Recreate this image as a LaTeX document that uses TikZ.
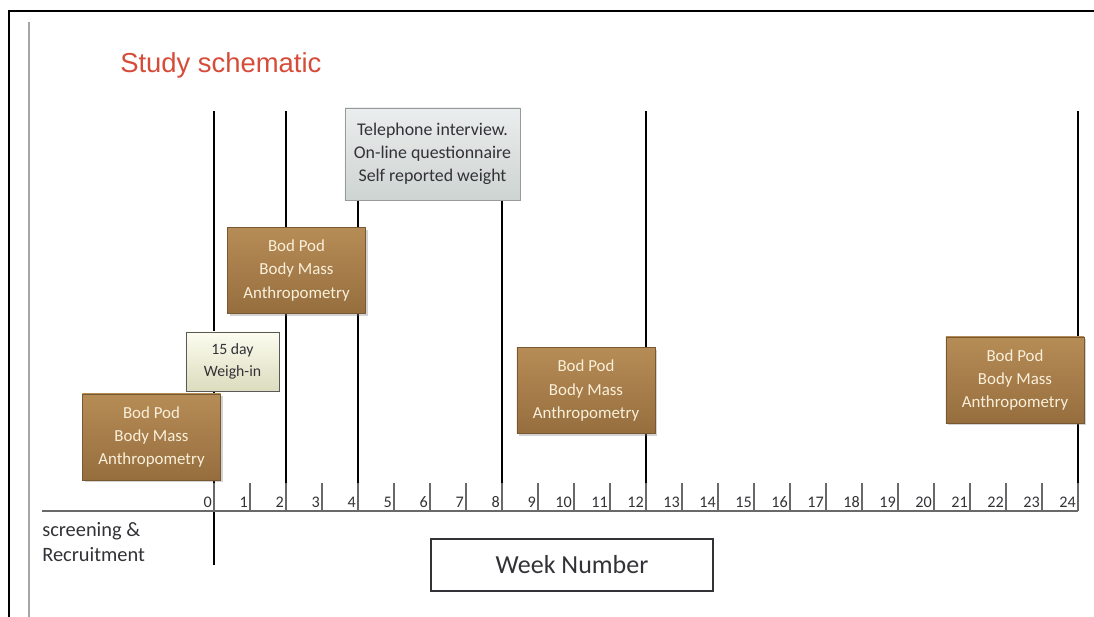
\documentclass[tikz,border=0pt]{standalone}
\usepackage{fontspec}
\setmainfont{Carlito}
\newfontfamily\titlefont{Liberation Sans}
\usepackage{xcolor}
\usepackage{tikz}
\usetikzlibrary{positioning,shadows}
\definecolor{titlered}{RGB}{214,76,56}
\definecolor{podtop}{RGB}{182,140,86}
\definecolor{podbottom}{RGB}{150,110,62}
\definecolor{podedge}{RGB}{120,88,50}
\definecolor{podtext}{RGB}{250,240,218}
\definecolor{creamtop}{RGB}{252,252,240}
\definecolor{creambottom}{RGB}{220,220,190}
\definecolor{phonetop}{RGB}{234,238,238}
\definecolor{phonebottom}{RGB}{206,212,210}
\definecolor{axisgray}{RGB}{105,105,105}
\definecolor{inkgray}{RGB}{50,50,55}

\begin{document}
\begin{tikzpicture}[x=0.025cm, y=-0.025cm,
    podbox/.style={draw=podedge, top color=podtop, bottom color=podbottom,
        text=podtext, align=center, minimum width=3.45cm, minimum height=2.15cm,
        font=\fontsize{12}{16.5}\selectfont,
        drop shadow={opacity=0.35, shadow xshift=1.5pt, shadow yshift=-1.5pt}},
    notebox/.style={draw=#1, align=center, text=inkgray},
    weekline/.style={line width=1pt, black}]
    \useasboundingbox (0,0) rectangle (1094,617);
    % frame
    \draw[line width=1.4pt] (9,617) -- (9,11) -- (1094,11);
    \draw[black!35, line width=0.8pt] (29,22) -- (29,617);
    % title
    \node[anchor=base west, inner sep=0, text=titlered,
        font=\titlefont\fontsize{19.5}{22}\selectfont] (title) at (120,73) {Study schematic};
    % long week lines
    \foreach \w in {2,4,8,12,24} {
        \draw[weekline] ({214+36*\w},111) -- ({214+36*\w},511);
    }
    \draw[weekline] (214,111) -- (214,565);
    % axis and ticks
    \draw[axisgray, line width=1.1pt] (42,511) -- (1078,511);
    \foreach \w in {0,...,24} {
        \draw[axisgray, line width=0.8pt] ({214+36*\w},483) -- ({214+36*\w},511);
        \node[anchor=base east, inner sep=0, text=inkgray, font=\fontsize{11.5}{13}\selectfont]
            (n\w) at ({212+36*\w},507) {\w};
    }
    % boxes
    \node[podbox] (pod0) at (151.5,437) {Bod Pod\\Body Mass\\Anthropometry};
    \node[notebox=black!65, top color=creamtop, bottom color=creambottom,
        font=\fontsize{11.2}{16}\selectfont,
        minimum width=2.33cm, minimum height=1.48cm] (weigh) at (232.5,361.5) {15 day\\Weigh-in};
    \node[podbox] (pod2) at (296.5,270.5) {Bod Pod\\Body Mass\\Anthropometry};
    \node[notebox=black!40, top color=phonetop, bottom color=phonebottom,
        font=\fontsize{12.7}{16.5}\selectfont,
        minimum width=4.38cm, minimum height=2.3cm] (phone) at (432.5,154)
        {Telephone interview.\\On-line questionnaire\\Self reported weight};
    \node[podbox] (pod12) at (586,390.5) {Bod Pod\\Body Mass\\Anthropometry};
    \node[podbox] (pod24) at (1015,380) {Bod Pod\\Body Mass\\Anthropometry};
    % labels below axis
    \node[anchor=north west, inner sep=0, align=left, text=inkgray,
        font=\fontsize{14.5}{17.8}\selectfont] (screen) at (42,522) {screening \&\\Recruitment};
    \node[draw=inkgray, line width=2pt, text=inkgray, minimum width=7.05cm, minimum height=1.3cm,
        font=\fontsize{18.5}{22}\selectfont] (weeks) at (572,565) {Week Number};
\end{tikzpicture}
\end{document}
